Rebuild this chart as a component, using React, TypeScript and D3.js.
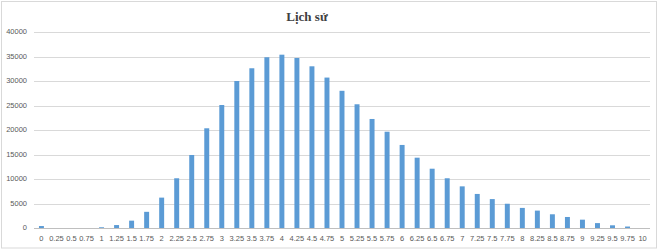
import React from "react";
import * as d3 from "d3";

const categories: string[] = [
  "0", "0.25", "0.5", "0.75", "1", "1.25", "1.5", "1.75", "2", "2.25", "2.5", "2.75",
  "3", "3.25", "3.5", "3.75", "4", "4.25", "4.5", "4.75", "5", "5.25", "5.5", "5.75",
  "6", "6.25", "6.5", "6.75", "7", "7.25", "7.5", "7.75", "8", "8.25", "8.5", "8.75",
  "9", "9.25", "9.5", "9.75", "10",
];
const values: number[] = [
  400, 0, 0, 0, 150, 600, 1500, 3300, 6200, 10150, 14900, 20350,
  25100, 30000, 32600, 34850, 35370, 34700, 33000, 30700, 28000, 25250, 22250, 19650,
  16950, 14350, 12100, 10150, 8500, 6950, 5900, 4950, 4100, 3550, 2800, 2250,
  1700, 1000, 550, 300, 0,
];
const yTicks: number[] = [0, 5000, 10000, 15000, 20000, 25000, 30000, 35000, 40000];
const title = "Lịch sử";

const W = 660;
const H = 250;
const left = 34;
const right = 650;
const top = 32;
const bottom = 228;

export default function App() {
  const x = d3.scaleBand<string>().domain(categories).range([left, right]).paddingInner(0.67).paddingOuter(0.33);
  const y = d3.scaleLinear().domain([0, 40000]).range([bottom, top]);
  const tickFont = "'Liberation Sans', Arial, sans-serif";
  return (
    <svg width={W} height={H} style={{ position: "absolute", left: 0, top: 0 }}>
      <rect x={0} y={0} width={W} height={H} fill="#ffffff" />
      <rect x={1.5} y={1.5} width={655} height={246.5} fill="none" stroke="#d9d9d9" strokeWidth={1} />
      <text x={307} y={21} textAnchor="middle" fontFamily="'Liberation Serif', 'Times New Roman', serif" fontWeight="bold" fontSize={13} fill="#404040">
        {title}
      </text>
      {yTicks.map((t) => (
        <g key={t}>
          <line x1={left} x2={right} y1={Math.round(y(t)) + 0.5} y2={Math.round(y(t)) + 0.5} stroke={t === 0 ? "#bfbfbf" : "#d9d9d9"} strokeWidth={1} />
          <text x={27} y={y(t)} dy="0.33em" textAnchor="end" fontFamily={tickFont} fontSize={7.5} fill="#595959">
            {t}
          </text>
        </g>
      ))}
      {categories.map((c, i) => (
        <rect key={c} x={x(c)!} y={y(values[i])} width={x.bandwidth()} height={bottom - y(values[i])} fill="#5b9bd5" />
      ))}
      {categories.map((c) => (
        <text key={c} x={x(c)! + x.bandwidth() / 2} y={241} textAnchor="middle" fontFamily={tickFont} fontSize={7.5} fill="#595959">
          {c}
        </text>
      ))}
    </svg>
  );
}
